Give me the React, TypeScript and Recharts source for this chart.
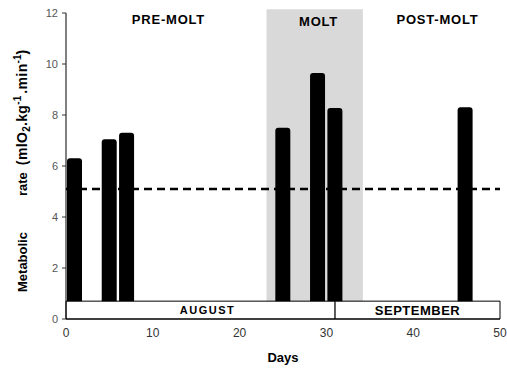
import { ComposedChart, Bar, XAxis, YAxis, ReferenceArea, ReferenceLine, Label } from "recharts";

// metabolic rate per measurement day
const days = [1, 5, 7, 25, 29, 31, 46];
const rates = [6.3, 7.05, 7.3, 7.5, 9.65, 8.27, 8.3];

const xTicks = [0, 10, 20, 30, 40, 50];
const yTicks = [0, 2, 4, 6, 8, 10, 12];

// resting reference level (dashed)
const baselineRate = 5.1;

// moult period (grey band) and phase titles
const moltStart = 23.1;
const moltEnd = 34.2;
const phaseNames = ["PRE-MOLT", "MOLT", "POST-MOLT"];
const phaseCentres = [11.8, 29.1, 42.8];

// calendar months along the bottom
const months = ["AUGUST", "SEPTEMBER"];
const monthStarts = [0, 31];
const monthEnds = [31, 50];
const monthBoxTop = 0.7;

const data = days.map((d, i) => ({ day: d, rate: rates[i] }));

const FONT = "Arial, 'Liberation Sans', Helvetica, sans-serif";

function YLabel(props: any) {
  const vb = props.viewBox || { x: 0, y: 13, width: 66, height: 306 };
  const x = vb.x + 27;
  const y = vb.y + vb.height - 27;
  return (
    <text
      x={x}
      y={y}
      transform={`rotate(-90 ${x} ${y})`}
      textAnchor="start"
      fontWeight="bold"
      fontSize={13}
      fontFamily={FONT}
      fill="#000"
    >
      Metabolic
      <tspan dx={36}>rate</tspan>
      <tspan dx={7} fontSize={14} letterSpacing={0.4}>(mlO</tspan>
      <tspan fontSize={10} dy={3}>2</tspan>
      <tspan fontSize={14} dy={-3} letterSpacing={0.4}>.kg</tspan>
      <tspan fontSize={10} dy={-6}>-1</tspan>
      <tspan fontSize={14} dy={6} dx={2} letterSpacing={0.4}>.min</tspan>
      <tspan fontSize={10} dy={-6}>-1</tspan>
      <tspan fontSize={14} dy={6}>)</tspan>
    </text>
  );
}

export default function App() {
  return (
    <div style={{ position: "absolute", left: 0, top: 0, background: "#fff" }}>
      <ComposedChart
        width={507}
        height={369}
        data={data}
        margin={{ top: 13, right: 7, bottom: 0, left: 0 }}
        style={{ fontFamily: FONT }}
      >
        <ReferenceArea
          x1={moltStart}
          x2={moltEnd}
          y1={0}
          y2={12.15}
          fill="#d9d9d9"
          fillOpacity={1}
          stroke="none"
          ifOverflow="visible"
          zIndex={-10}
        />
        <XAxis
          type="number"
          dataKey="day"
          domain={[0, 50]}
          ticks={xTicks}
          height={50}
          axisLine={{ stroke: "#000" }}
          tickLine={false}
          tickMargin={3}
          tick={{ fill: "#333", fontSize: 12 }}
        >
          <Label value="Days" position="insideBottom" offset={7} fill="#000" fontSize={13} fontWeight="bold" />
        </XAxis>
        <YAxis
          type="number"
          domain={[0, 12]}
          ticks={yTicks}
          width={66}
          axisLine={{ stroke: "#000" }}
          tickLine={{ stroke: "#333" }}
          tickSize={4}
          tickMargin={4}
          tick={{ fill: "#555", fontSize: 11 }}
        >
          <Label content={YLabel} />
        </YAxis>
        <Bar dataKey="rate" fill="#000" barSize={15} radius={[3, 3, 0, 0]} isAnimationActive={false} />
        {months.map((m, i) => (
          <ReferenceArea
            key={m}
            x1={monthStarts[i]}
            x2={monthEnds[i]}
            y1={0}
            y2={monthBoxTop}
            fill="#fff"
            fillOpacity={1}
            stroke="#000"
            strokeWidth={1}
            zIndex={450}
            label={{
              value: m,
              position: "center",
              fill: "#000",
              fontSize: i === 0 ? 11 : 13,
              fontWeight: "bold",
              letterSpacing: i === 0 ? 1.5 : 0.5,
              dx: i === 0 ? 7 : 0,
            }}
          />
        ))}
        <ReferenceLine
          y={baselineRate}
          stroke="#000"
          strokeWidth={2.5}
          strokeDasharray="8 5"
          zIndex={460}
        />
        {phaseNames.map((p, i) => (
          <ReferenceLine
            key={p}
            x={phaseCentres[i]}
            stroke="none"
            label={{
              value: p,
              position: "insideTop",
              offset: i === 1 ? 4 : 2,
              fill: "#000",
              fontSize: 13,
              fontWeight: "bold",
              letterSpacing: 0.8,
            }}
          />
        ))}
      </ComposedChart>
    </div>
  );
}
